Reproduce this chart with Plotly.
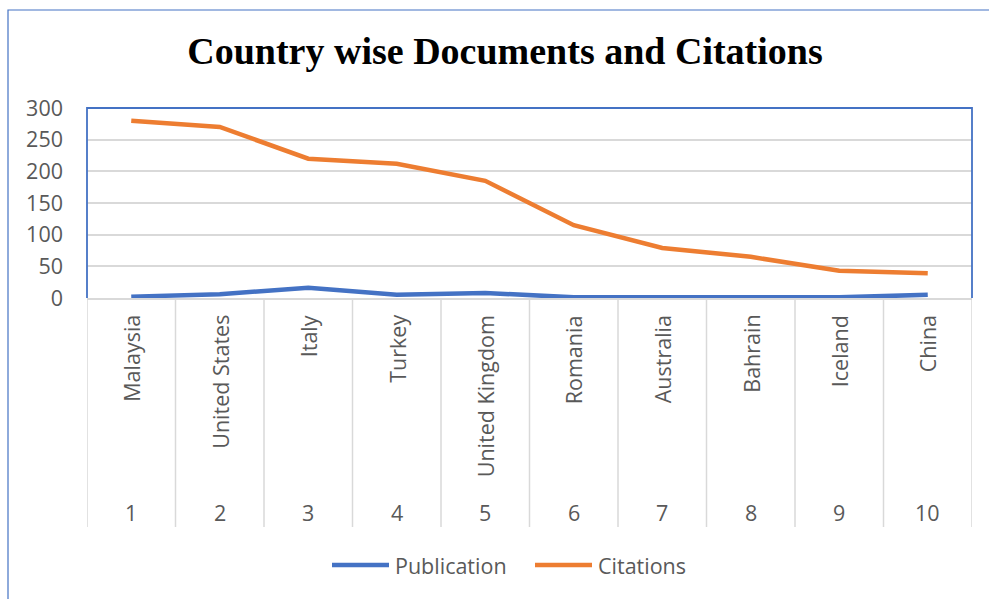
import plotly.graph_objects as go

countries = ["Malaysia", "United States", "Italy", "Turkey", "United Kingdom",
             "Romania", "Australia", "Bahrain", "Iceland", "China"]
ranks = ["1", "2", "3", "4", "5", "6", "7", "8", "9", "10"]
publication = [2, 6, 16, 5, 8, 1, 1, 1, 1, 5]
citations = [280, 270, 220, 212, 185, 115, 79, 65, 43, 39]
series_names = ["Publication", "Citations"]
series_colors = ["#4472C4", "#ED7D31"]

W, H = 989, 599
L, R, T, B = 87, 972, 108, 298
pw, ph = R - L, B - T

def py(pix):  # pixel y -> paper y
    return (B - pix) / ph

def px(pix):
    return (pix - L) / pw

FONT = "Open Sans"
GRAY = "#595959"
FS = 21.5
xs = list(range(len(countries)))

fig = go.Figure()
for name, vals, col in zip(series_names, [publication, citations], series_colors):
    fig.add_trace(go.Scatter(x=xs, y=vals, name=name, mode="lines",
                             line=dict(color=col, width=4.5), showlegend=False))

shapes = []
# category separators below axis
for i in range(len(countries) + 1):
    shapes.append(dict(type="line", xref="x", yref="paper", x0=i - 0.5, x1=i - 0.5,
                       y0=0, y1=py(527), line=dict(color="#D9D9D9", width=1.5),
                       layer="below"))
# plot border (left, top, right) blue
shapes.append(dict(type="path", xref="paper", yref="paper",
                   path="M0,0 L0,1 L1,1 L1,0",
                   line=dict(color="#4472C4", width=1.8)))
# outer chart border
shapes.append(dict(type="path", xref="paper", yref="paper",
                   path=f"M{px(8)},{py(605)} L{px(8)},{py(10)} L{px(995)},{py(10)}",
                   line=dict(color="#4472C4", width=1.2)))

annotations = []
for i, c in enumerate(countries):
    annotations.append(dict(x=i, y=py(313), xref="x", yref="paper", text=c,
                            textangle=-90, showarrow=False, xanchor="center",
                            yanchor="top", font=dict(family=FONT, size=FS, color=GRAY)))
    annotations.append(dict(x=i, y=py(512), xref="x", yref="paper", text=ranks[i],
                            showarrow=False, xanchor="center", yanchor="middle",
                            font=dict(family=FONT, size=FS, color=GRAY)))

# custom legend (Excel style: long line swatch)
leg_y = py(565)
leg_items = [(332, 389, 393), (535, 592, 596)]
for (x0, x1, tx), name, col in zip(leg_items, series_names, series_colors):
    shapes.append(dict(type="line", xref="paper", yref="paper", x0=px(x0), x1=px(x1),
                       y0=leg_y, y1=leg_y, line=dict(color=col, width=4.5)))
    annotations.append(dict(x=px(tx), y=leg_y, xref="paper", yref="paper", text=name,
                            showarrow=False, xanchor="left", yanchor="middle",
                            font=dict(family=FONT, size=FS, color=GRAY)))

fig.update_layout(
    width=W, height=H,
    margin=dict(l=L, r=W - R, t=T, b=H - B, pad=0),
    paper_bgcolor="white", plot_bgcolor="white",
    showlegend=False,
    title=dict(text="<b>Country wise Documents and Citations</b>", xref="paper",
               x=px(505), xanchor="center", y=1 - 51 / H, yanchor="middle",
               font=dict(family="Liberation Serif", size=38, color="black")),
    xaxis=dict(range=[-0.5, len(countries) - 0.5], showticklabels=False,
               showgrid=False, zeroline=False, showline=True, linecolor="#D9D9D9",
               linewidth=1.5, ticks=""),
    yaxis=dict(range=[0, 300], dtick=50, showgrid=True, gridcolor="#D9D9D9",
               gridwidth=1.5, zeroline=False, showline=False, ticks="",
               ticklabelstandoff=23,
               tickfont=dict(family=FONT, size=FS, color=GRAY)),
    shapes=shapes,
    annotations=annotations,
)

fig.write_html("out.html")
